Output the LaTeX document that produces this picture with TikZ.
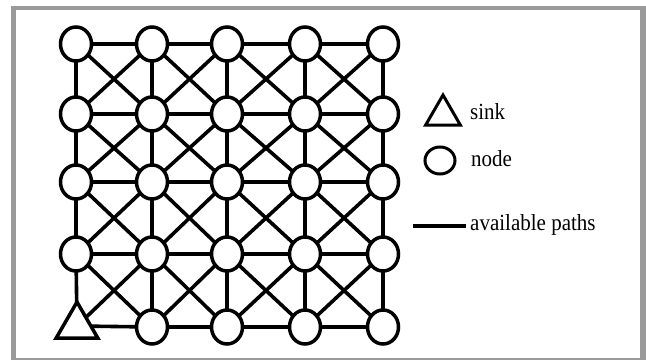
\documentclass[tikz,border=0pt]{standalone}
\usepackage{fontspec}
\setmainfont{Liberation Serif}
\usetikzlibrary{shapes.geometric}
\definecolor{framegray}{HTML}{9A9A9A}
\begin{document}
\begin{tikzpicture}[x=1pt,y=1pt,
  nd/.style={draw, ellipse, line width=3.5pt, minimum width=31pt, minimum height=34pt, inner sep=0pt, outer sep=0pt},
  sinknode/.style={draw, regular polygon, regular polygon sides=3, line width=3.5pt, minimum size=48pt, inner sep=0pt, outer sep=0pt},
  legsinknode/.style={draw, regular polygon, regular polygon sides=3, line width=3pt, minimum size=40pt, inner sep=0pt, outer sep=0pt},
  legnd/.style={draw, ellipse, line width=3pt, minimum width=30pt, minimum height=27pt, inner sep=0pt, outer sep=0pt},
  edgeline/.style={line width=3.6pt},
  legline/.style={line width=4.5pt},
  lbl/.style={anchor=base west, inner sep=0pt, font=\fontsize{21}{24}\selectfont}
]
\useasboundingbox (0,0) rectangle (646,360);
% frame
\fill[framegray] (11,0.5) rectangle (646,354);
\fill[white] (16,2) rectangle (640,350);

% grid nodes
\foreach \c/\x in {1/76,2/152,3/227,4/305,5/383}{
  \foreach \r/\y in {1/316,2/246,3/178,4/106,5/33}{
    \ifnum\r\c=51\relax
    \else
      \node[nd] (n-\r-\c) at (\x,\y) {};
    \fi
  }
}
% sink
\node[sinknode] (n-5-1) at (77,34) {};

% horizontal edges
\foreach \r in {1,...,5}{
  \foreach \c [evaluate=\c as \cn using int(\c+1)] in {1,...,4}{
    \draw[edgeline] (n-\r-\c) -- (n-\r-\cn);
  }
}
% vertical edges
\foreach \r [evaluate=\r as \rn using int(\r+1)] in {1,...,4}{
  \foreach \c in {1,...,5}{
    \draw[edgeline] (n-\r-\c) -- (n-\rn-\c);
  }
}
% diagonal edges
\foreach \r [evaluate=\r as \rn using int(\r+1)] in {1,...,4}{
  \foreach \c [evaluate=\c as \cn using int(\c+1)] in {1,...,4}{
    \draw[edgeline] (n-\r-\c) -- (n-\rn-\cn);
    \draw[edgeline] (n-\r-\cn) -- (n-\rn-\c);
  }
}

% legend
\node[legsinknode] (legsink) at (443,245) {};
\node[lbl] (tsink) at (470,241) {\scalebox{1}[1.1]{sink}};
\node[legnd] (legnode) at (440,199.5) {};
\node[lbl] (tnode) at (471,194) {\scalebox{1}[1.1]{node}};
\coordinate (la) at (413,134);
\coordinate (lb) at (466,134);
\draw[legline] (la) -- (lb);
\node[lbl] (tpaths) at (470,130) {\scalebox{1}[1.1]{available paths}};
\end{tikzpicture}
\end{document}
